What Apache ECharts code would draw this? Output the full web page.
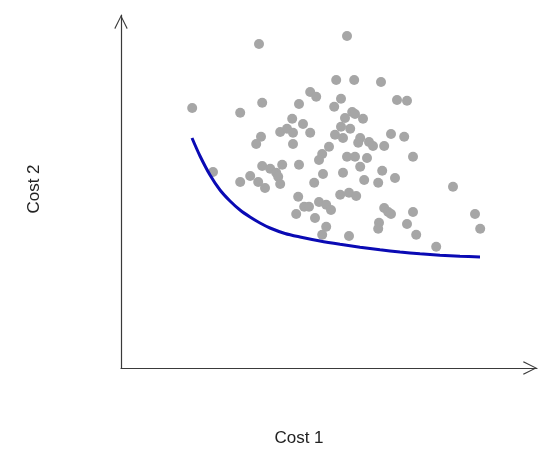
<!DOCTYPE html>
<html>
<head>
<meta charset="utf-8">
<script src="https://cdn.jsdelivr.net/npm/echarts@6/dist/echarts.min.js"></script>
<style>html,body{margin:0;padding:0;background:#fff;}#c{width:538px;height:475px;}</style>
</head>
<body>
<div id="c"></div>
<script>
// Scatter points: [Cost 1, Cost 2]
const pointsX = [1.78,3.45,5.65,2.98,3.53,4.45,4.73,4.88,5.38,5.83,6.50,5.50,5.33,6.90,7.15,5.78,5.85,5.60,6.05,4.28,4.55,3.98,4.15,4.30,5.50,5.73,4.73,3.50,3.38,4.30,5.35,5.55,5.98,5.93,6.20,6.30,6.75,7.08,6.58,5.20,5.03,4.95,5.65,5.85,6.15,7.30,5.98,6.53,5.55,5.05,6.08,6.43,6.85,8.30,3.53,3.73,3.88,4.03,4.45,3.23,2.98,3.43,3.60,3.93,3.98,4.83,2.30,4.43,4.58,4.70,4.95,5.13,5.25,4.38,4.85,5.13,5.03,5.48,5.70,5.88,6.58,6.68,6.75,7.30,6.45,6.43,7.15,7.38,5.70,7.88,8.85,8.98];
const pointsY = [6.50,8.10,8.30,6.38,6.63,6.60,6.90,6.78,7.20,7.20,7.15,6.73,6.53,6.70,6.68,6.40,6.35,6.25,6.23,6.23,6.10,5.90,5.98,5.88,6.03,5.98,5.88,5.78,5.60,5.60,5.83,5.75,5.75,5.63,5.65,5.55,5.85,5.78,5.55,5.53,5.35,5.20,5.28,5.28,5.25,5.28,5.03,4.93,4.88,4.85,4.70,4.63,4.75,4.53,5.05,4.98,4.88,5.08,5.08,4.80,4.65,4.65,4.50,4.78,4.60,4.63,4.90,4.28,4.03,4.03,4.15,4.08,3.95,3.85,3.75,3.53,3.33,4.33,4.38,4.30,4.00,3.90,3.85,3.90,3.63,3.48,3.60,3.33,3.30,3.03,3.85,3.48];
// Frontier curve
const curveX = [1.775,1.975,2.225,2.475,2.725,2.975,3.225,3.475,3.725,4.1,4.475,4.975,5.475,5.975,6.475,6.975,7.475,7.975,8.475,8.975];
const curveY = [5.75,5.30,4.825,4.45,4.175,3.95,3.775,3.625,3.50,3.363,3.275,3.175,3.093,3.02,2.955,2.90,2.855,2.82,2.793,2.775];
const xName = 'Cost 1';
const yName = 'Cost 2';

const chart = echarts.init(document.getElementById('c'), null, {renderer: 'canvas'});
const chevron = 'path://M10,0 L0,20 L1.4,21 L10,3.2 L18.6,21 L20,20 Z';
const axisCommon = {
  axisTick: {show: false},
  axisLabel: {show: false},
  splitLine: {show: false},
  axisLine: {
    show: true,
    symbol: ['none', chevron],
    symbolSize: [18, 14],
    symbolOffset: [0, -7],
    lineStyle: {color: '#3a3a3a', width: 1.2}
  }
};
const labelFont = '17px "Liberation Sans", Arial, sans-serif';
chart.setOption({
  animation: false,
  backgroundColor: '#ffffff',
  grid: {left: 121, right: 1, top: 15, bottom: 107},
  xAxis: Object.assign({type: 'value', min: 0, max: 10.4}, axisCommon),
  yAxis: Object.assign({type: 'value', min: 0, max: 8.825}, axisCommon),
  graphic: [
    {type: 'text', x: 299, y: 438, style: {text: xName, font: labelFont, fill: '#222', align: 'center', verticalAlign: 'middle'}},
    {type: 'text', x: 34, y: 189, rotation: Math.PI / 2, style: {text: yName, font: labelFont, fill: '#222', align: 'center', verticalAlign: 'middle'}}
  ],
  series: [
    {
      type: 'scatter',
      data: pointsX.map((x, i) => [x, pointsY[i]]),
      symbolSize: 10,
      itemStyle: {color: '#a6a6a6', opacity: 1},
      z: 2
    },
    {
      type: 'line',
      data: curveX.map((x, i) => [x, curveY[i]]),
      smooth: 0.3,
      showSymbol: false,
      lineStyle: {color: '#0a0ab4', width: 3},
      z: 3
    }
  ]
});
</script>
</body>
</html>
